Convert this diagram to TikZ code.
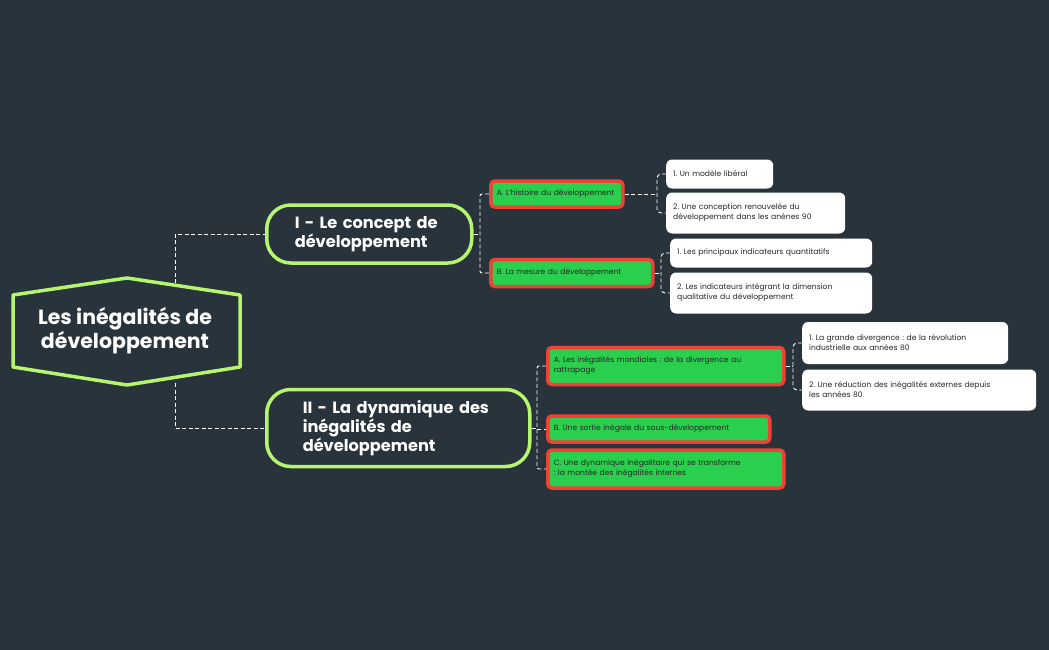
\documentclass[tikz,border=0pt]{standalone}
\usepackage{fontspec}
\setmainfont{Poppins}
\frenchspacing
\definecolor{bg}{HTML}{29333B}
\definecolor{lg}{HTML}{B5F56F}
\definecolor{rd}{HTML}{EF4136}
\definecolor{gf}{HTML}{2BCF4E}
\begin{document}
\begin{tikzpicture}[x=1pt,y=-1pt,
 main/.style={draw=lg,line width=3.5pt,rounded corners=24pt,fill=bg,text=white,font=\bfseries\fontsize{16.2}{19}\selectfont,align=left,anchor=west,inner ysep=0pt},
 sec/.style={draw=rd,line width=3.5pt,fill=gf,rounded corners=4pt,text=black!85,font=\fontsize{7.6}{10}\selectfont,align=left,inner xsep=6pt,inner ysep=0pt,anchor=west},
 leaf/.style={fill=white,rounded corners=6pt,text=black!85,font=\fontsize{7.6}{10}\selectfont,align=left,inner xsep=7pt,inner ysep=0pt,anchor=west},
 con/.style={draw=white!85,line width=0.9pt,dash pattern=on 4pt off 2.5pt}]
\fill[bg] (0,0) rectangle (1049,650);
\useasboundingbox (0,0) rectangle (1049,650);
\coordinate (rt) at (175,283);
\coordinate (rb) at (175,383);
\node[main,minimum height=58,text width=149,inner xsep=28pt] (I) at (265,234) {I - Le concept de\\développement};
\node[main,minimum height=77,text width=191,inner xsep=36pt] (II) at (265,428) {II - La dynamique des\\inégalités de\\développement};
\draw[con] (rt) |- (I.west);
\draw[con] (rb) |- (II.west);
\draw[draw=lg,line width=3.5pt,fill=bg,line join=round] (13,295)--(127,278)--(240,295)--(240,367)--(127,385)--(13,367)--cycle;
\node[text=white,font=\bfseries\fontsize{20.5}{24}\selectfont,align=center] (root) at (125,331) {Les inégalités de\\développement};
% level 2
\node[sec,text width=120,minimum height=26] (A1) at (489,194) {A. L'histoire du développement};
\node[sec,text width=150,minimum height=27] (B1) at (489,273) {B. La mesure du développement};
\node[sec,text width=224,minimum height=37] (A2) at (546,366) {A. Les inégalités mondiales : de la divergence au\\rattrapage};
\node[sec,text width=210,minimum height=26] (B2) at (546,429) {B. Une sortie inégale du sous-développement};
\node[sec,text width=224,minimum height=38] (C2) at (546,469) {C. Une dynamique inégalitaire qui se transforme\\: la montée des inégalités internes};
\draw[con] (I.east) -- (480,234);
\draw[con,rounded corners=2pt] (A1.west) -| (480,234) |- (B1.west);
\draw[con] (II.east) -- (537,428);
\draw[con,rounded corners=2pt] (A2.west) -| (537,428) |- (C2.west);
\draw[con] (537,429) -- (B2.west);
% leaves
\node[leaf,text width=93,minimum height=29] (a1) at (666,174) {1. Un modèle libéral};
\node[leaf,text width=165,minimum height=41] (a2) at (666,213) {2. Une conception renouvelée du\\développement dans les anénes 90};
\node[leaf,text width=188,minimum height=29] (b1) at (670,253) {1. Les principaux indicateurs quantitatifs};
\node[leaf,text width=188,minimum height=41] (b2) at (670,293) {2. Les indicateurs intégrant la dimension\\qualitative du développement};
\node[leaf,text width=192,minimum height=42] (c1) at (802,343) {1. La grande divergence : de la révolution\\industrielle aux années 80};
\node[leaf,text width=220,minimum height=41] (c2) at (802,390) {2. Une réduction des inégalités externes depuis\\les années 80};
\draw[con] (A1.east) -- (657,194);
\draw[con,rounded corners=4pt] (a1.west) -| (657,194) |- (a2.west);
\draw[con] (B1.east) -- (661,273);
\draw[con,rounded corners=4pt] (b1.west) -| (661,273) |- (b2.west);
\draw[con] (A2.east) -- (793,366);
\draw[con,rounded corners=4pt] (c1.west) -| (793,366) |- (c2.west);
\end{tikzpicture}
\end{document}
